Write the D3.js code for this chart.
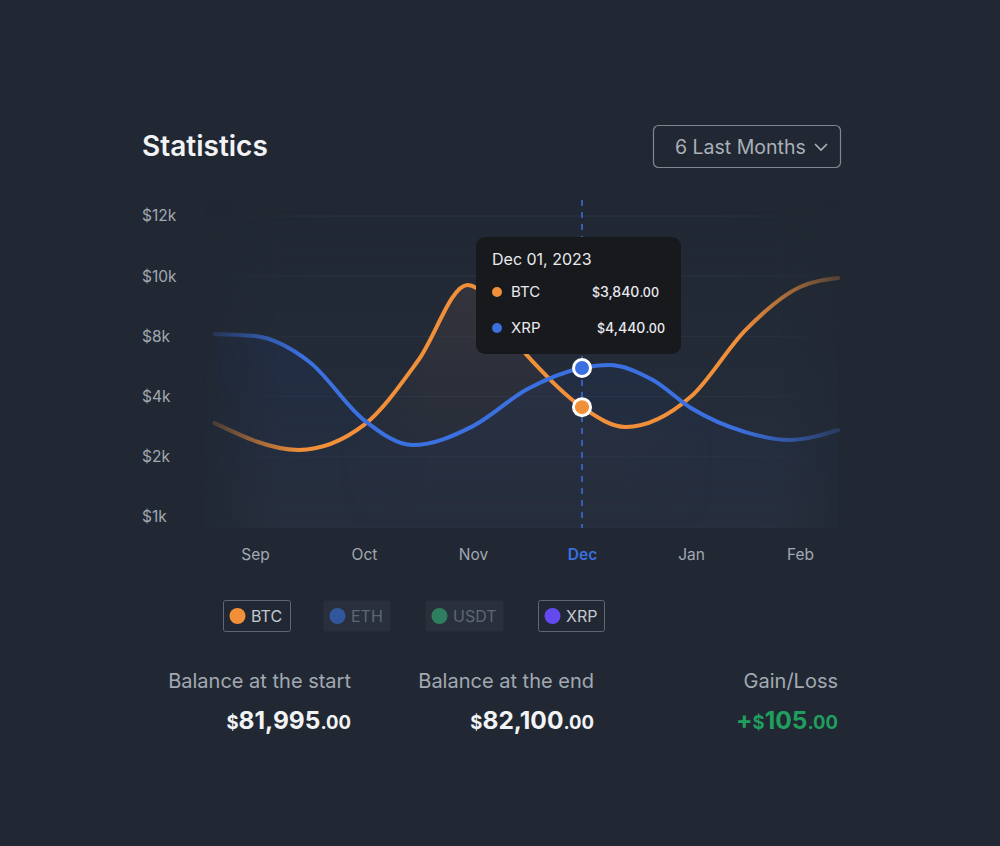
<!DOCTYPE html>
<html>
<head>
<meta charset="utf-8">
<script src="https://cdn.jsdelivr.net/npm/d3@7"></script>
<style>
  html, body { margin: 0; padding: 0; background: #212833; }
  svg { display: block; font-family: Inter, "Noto Sans", sans-serif; }
</style>
</head>
<body>
<div id="chart"></div>
<script>
// ---- data ----
const months = ['Sep', 'Oct', 'Nov', 'Dec', 'Jan', 'Feb'];
const activeMonth = 3;
// positions in months from Sep, values in $
const btcPos = [-0.37, 0.4, 1, 1.5, 1.95, 2.5, 3, 3.4, 4, 4.5, 5, 5.35];
const btcValues = [3120, 2230, 3060, 6430, 9710, 6700, 3650, 2990, 4000, 8210, 9640, 9940];
const xrpPos = [-0.37, 0, 0.5, 1, 1.45, 2, 2.5, 3, 3.25, 3.65, 4, 4.5, 4.9, 5.35];
const xrpValues = [8080, 8010, 6300, 3220, 2390, 3020, 4500, 5900, 6100, 5100, 3620, 2820, 2560, 2890];
const yTicks = [1000, 2000, 4000, 8000, 10000, 12000];

const tooltipDate = 'Dec 01, 2023';
const tooltipNames = ['BTC', 'XRP'];
const tooltipValues = [3840, 4440];

const legendNames = ['BTC', 'ETH', 'USDT', 'XRP'];
const legendColors = ['#f2903a', '#3563bd', '#2f9a6c', '#6549f0'];
const legendActive = [true, false, false, true];

const statLabels = ['Balance at the start', 'Balance at the end', 'Gain/Loss'];
const statValues = [81995, 82100, 105];

// ---- layout ----
const W = 1000, H = 846;
const btcColor = '#f2903a', xrpColor = '#3b70e0';

const svg = d3.select('#chart').append('svg')
    .attr('width', W)
    .attr('height', H);

const defs = svg.append('defs');

// scales
const x = d3.scaleLinear().domain([0, 5]).range([255, 800]);
const plotBottom = 517, rowH = 60.2;
const y = d3.scaleLinear()
    .domain(yTicks)
    .range(yTicks.map((d, i) => plotBottom - i * rowH));

const plotLeft = x(-0.37), plotRight = x(5.35);

// title
svg.append('text')
    .attr('x', 142).attr('y', 156)
    .text('Statistics')
    .style('fill', '#f1f3f5')
    .style('font-size', '28px')
    .style('font-weight', 600);

// dropdown
svg.append('rect')
    .attr('x', 653.5).attr('y', 125.5)
    .attr('width', 187).attr('height', 42)
    .attr('rx', 5)
    .attr('fill', 'none')
    .attr('stroke', '#7f8791')
    .attr('stroke-width', 1.2);
svg.append('text')
    .attr('x', 675).attr('y', 153.5)
    .text('6 Last Months')
    .style('fill', '#a9b0b8')
    .style('font-size', '19.5px');
svg.append('path')
    .attr('d', 'M815,144 l6,6 l6,-6')
    .attr('fill', 'none')
    .attr('stroke', '#a9b0b8')
    .attr('stroke-width', 1.6);

// plot background
const bgGrad = defs.append('linearGradient')
    .attr('id', 'bgGrad').attr('x1', 0).attr('y1', 0).attr('x2', 0).attr('y2', 1);
bgGrad.append('stop').attr('offset', 0).attr('stop-color', '#2a3344').attr('stop-opacity', 0);
bgGrad.append('stop').attr('offset', 1).attr('stop-color', '#2c3545').attr('stop-opacity', 0.55);
const bgSide = defs.append('linearGradient')
    .attr('id', 'bgSide').attr('x1', 0).attr('y1', 0).attr('x2', 1).attr('y2', 0);
bgSide.append('stop').attr('offset', 0).attr('stop-color', '#fff').attr('stop-opacity', 0.2);
bgSide.append('stop').attr('offset', 0.12).attr('stop-color', '#fff').attr('stop-opacity', 1);
bgSide.append('stop').attr('offset', 0.9).attr('stop-color', '#fff').attr('stop-opacity', 1);
bgSide.append('stop').attr('offset', 1).attr('stop-color', '#fff').attr('stop-opacity', 0.4);
defs.append('mask').attr('id', 'bgMask')
    .append('rect')
    .attr('x', plotLeft - 10).attr('y', 195)
    .attr('width', plotRight - plotLeft + 10).attr('height', 333)
    .attr('fill', 'url(#bgSide)');
svg.append('rect')
    .attr('x', plotLeft - 10).attr('y', 195)
    .attr('width', plotRight - plotLeft + 10).attr('height', 333)
    .attr('fill', 'url(#bgGrad)')
    .attr('mask', 'url(#bgMask)');

// mask that keeps the BTC fill only round its peak
const midSide = defs.append('linearGradient')
    .attr('id', 'midSide').attr('gradientUnits', 'userSpaceOnUse')
    .attr('x1', plotLeft).attr('x2', plotRight).attr('y1', 0).attr('y2', 0);
[[0, 0], [0.2, 0], [0.35, 1], [0.65, 1], [0.8, 0], [1, 0]].forEach(st => {
    midSide.append('stop').attr('offset', st[0]).attr('stop-color', '#fff').attr('stop-opacity', st[1]);
});
defs.append('mask').attr('id', 'midMask')
    .append('rect')
    .attr('x', plotLeft).attr('y', 195)
    .attr('width', plotRight - plotLeft).attr('height', 333)
    .attr('fill', 'url(#midSide)');

// gridlines
const gridGrad = defs.append('linearGradient')
    .attr('id', 'gridGrad').attr('gradientUnits', 'userSpaceOnUse')
    .attr('x1', plotLeft).attr('x2', plotRight).attr('y1', 0).attr('y2', 0);
gridGrad.append('stop').attr('offset', 0).attr('stop-color', '#34404f').attr('stop-opacity', 0);
gridGrad.append('stop').attr('offset', 0.2).attr('stop-color', '#34404f').attr('stop-opacity', 0.45);
gridGrad.append('stop').attr('offset', 0.8).attr('stop-color', '#34404f').attr('stop-opacity', 0.45);
gridGrad.append('stop').attr('offset', 1).attr('stop-color', '#34404f').attr('stop-opacity', 0);
svg.append('g').selectAll('line')
    .data(yTicks.slice(1))
    .enter().append('line')
    .attr('x1', plotLeft).attr('x2', plotRight)
    .attr('y1', d => y(d)).attr('y2', d => y(d))
    .attr('stroke', 'url(#gridGrad)')
    .attr('stroke-width', 1);

// y axis
const yAxis = d3.axisLeft(y)
    .tickValues(yTicks)
    .tickSize(0)
    .tickFormat(d => '$' + d / 1000 + 'k');
const yAxisGroup = svg.append('g')
    .attr('transform', 'translate(142,0)')
    .call(yAxis);
yAxisGroup.select('.domain').remove();
yAxisGroup.selectAll('text')
    .attr('x', 0)
    .attr('text-anchor', 'start')
    .style('fill', '#a2a9b2')
    .style('font-size', '15.5px')
    .style('font-family', 'Inter, sans-serif');

// x axis
const xAxis = d3.axisBottom(x)
    .tickValues(d3.range(months.length))
    .tickSize(0)
    .tickFormat(i => months[i]);
const xAxisGroup = svg.append('g')
    .attr('transform', 'translate(0,545)')
    .call(xAxis);
xAxisGroup.select('.domain').remove();
xAxisGroup.selectAll('text')
    .attr('y', 4)
    .style('fill', (d) => d === activeMonth ? '#3b70e0' : '#a2a9b2')
    .style('font-weight', d => d === activeMonth ? 600 : 400)
    .style('font-size', '15.5px')
    .style('font-family', 'Inter, sans-serif');

// series
const series = [
    {name: 'BTC', pos: btcPos, values: btcValues, color: btcColor},
    {name: 'XRP', pos: xrpPos, values: xrpValues, color: xrpColor}
];

series.forEach((s, k) => {
    s.pts = s.pos.map((p, i) => ({p: p, v: s.values[i]}));

    // area fill
    const ag = defs.append('linearGradient')
        .attr('id', 'area' + k).attr('x1', 0).attr('y1', 0).attr('x2', 0).attr('y2', 1);
    ag.append('stop').attr('offset', 0).attr('stop-color', k === 0 ? '#4a4044' : '#1a3a80').attr('stop-opacity', k === 0 ? 0.5 : 0.18);
    ag.append('stop').attr('offset', 1).attr('stop-color', k === 0 ? '#33343d' : '#1a3a80').attr('stop-opacity', 0);

    const area = d3.area()
        .x(d => x(d.p))
        .y0(plotBottom + 10)
        .y1(d => y(d.v))
        .curve(d3.curveMonotoneX);
    svg.append('path')
        .datum(s.pts)
        .attr('d', area)
        .attr('fill', 'url(#area' + k + ')')
        .attr('mask', k === 0 ? 'url(#midMask)' : 'url(#bgMask)');

    // fading stroke
    const lg = defs.append('linearGradient')
        .attr('id', 'line' + k).attr('gradientUnits', 'userSpaceOnUse')
        .attr('x1', plotLeft).attr('x2', plotRight).attr('y1', 0).attr('y2', 0);
    [[0, 0.2], [0.14, 1], [0.84, 1], [1, 0.25]].forEach(st => {
        lg.append('stop').attr('offset', st[0]).attr('stop-color', s.color).attr('stop-opacity', st[1]);
    });

    s.line = d3.line()
        .x(d => x(d.p))
        .y(d => y(d.v))
        .curve(d3.curveMonotoneX);
});

// lines on top of both areas
series.forEach((s, k) => {
    svg.append('path')
        .datum(s.pts)
        .attr('d', s.line)
        .attr('fill', 'none')
        .attr('stroke', 'url(#line' + k + ')')
        .attr('stroke-width', 4)
        .attr('stroke-linecap', 'round');
});

// dashed hover line
svg.append('line')
    .attr('x1', x(activeMonth)).attr('x2', x(activeMonth))
    .attr('y1', 200).attr('y2', 528)
    .attr('stroke', '#3b70e0')
    .attr('stroke-width', 1.5)
    .attr('stroke-dasharray', '6,6');

// markers
series.forEach(s => {
    const v = s.values[s.pos.indexOf(activeMonth)];
    svg.append('circle')
        .attr('cx', x(activeMonth)).attr('cy', y(v))
        .attr('r', 10)
        .attr('fill', '#ffffff');
    svg.append('circle')
        .attr('cx', x(activeMonth)).attr('cy', y(v))
        .attr('r', 7)
        .attr('fill', s.color);
});

// money text: small "$", big integer, small ".00"
function money(sel, value, big, small, prefix) {
    if (prefix) sel.append('tspan').style('font-size', big + 'px').text(prefix);
    sel.append('tspan').style('font-size', small + 'px').text('$');
    sel.append('tspan').style('font-size', big + 'px').text(d3.format(',')(value));
    sel.append('tspan').style('font-size', small + 'px').text('.00');
}

// tooltip
const tip = svg.append('g').attr('transform', 'translate(476,237)');
tip.append('rect')
    .attr('width', 205).attr('height', 117)
    .attr('rx', 9)
    .attr('fill', '#18191d');
tip.append('text')
    .attr('x', 16).attr('y', 28)
    .text(tooltipDate)
    .style('fill', '#e8eaee')
    .style('font-size', '16px');
const tipRightEdges = [183, 189];
tooltipNames.forEach((n, i) => {
    const cy = 55 + i * 36;
    tip.append('circle')
        .attr('cx', 21).attr('cy', cy)
        .attr('r', 5)
        .attr('fill', series[i].color);
    tip.append('text')
        .attr('x', 35).attr('y', cy + 5)
        .text(n)
        .style('fill', '#e8eaee')
        .style('font-size', '15px');
    const t = tip.append('text')
        .attr('x', tipRightEdges[i]).attr('y', cy + 5)
        .attr('text-anchor', 'end')
        .style('fill', '#e8eaee')
        .style('font-weight', 500);
    money(t, tooltipValues[i], 14, 12.5);
});

// legend
const legendX = [223, 323, 425, 538];
const legendW = [67, 67, 78, 66];
legendNames.forEach((n, i) => {
    const g = svg.append('g').attr('transform', `translate(${legendX[i]},600)`);
    g.append('rect')
        .attr('x', 0.5).attr('y', 0.5)
        .attr('width', legendW[i]).attr('height', 31)
        .attr('rx', 2)
        .attr('fill', legendActive[i] ? 'none' : '#29303b')
        .attr('stroke', legendActive[i] ? '#5f6772' : 'none');
    g.append('circle')
        .attr('cx', 14.5).attr('cy', 16)
        .attr('r', 8)
        .attr('fill', legendColors[i])
        .attr('opacity', legendActive[i] ? 1 : 0.75);
    g.append('text')
        .attr('x', 28).attr('y', 21.5)
        .text(n)
        .style('fill', legendActive[i] ? '#c3c8cf' : '#5e6773')
        .style('font-size', '16px');
});

// balances
const statRight = [351, 594, 838];
statLabels.forEach((l, i) => {
    svg.append('text')
        .attr('x', statRight[i]).attr('y', 688)
        .attr('text-anchor', 'end')
        .text(l)
        .style('fill', '#a2a9b2')
        .style('font-size', '20px');
    const t = svg.append('text')
        .attr('x', statRight[i]).attr('y', 729)
        .attr('text-anchor', 'end')
        .style('fill', i === 2 ? '#1f9e5e' : '#f1f3f5')
        .style('font-weight', 700);
    money(t, statValues[i], 24.5, 18.5, i === 2 ? '+' : null);
});
</script>
</body>
</html>
